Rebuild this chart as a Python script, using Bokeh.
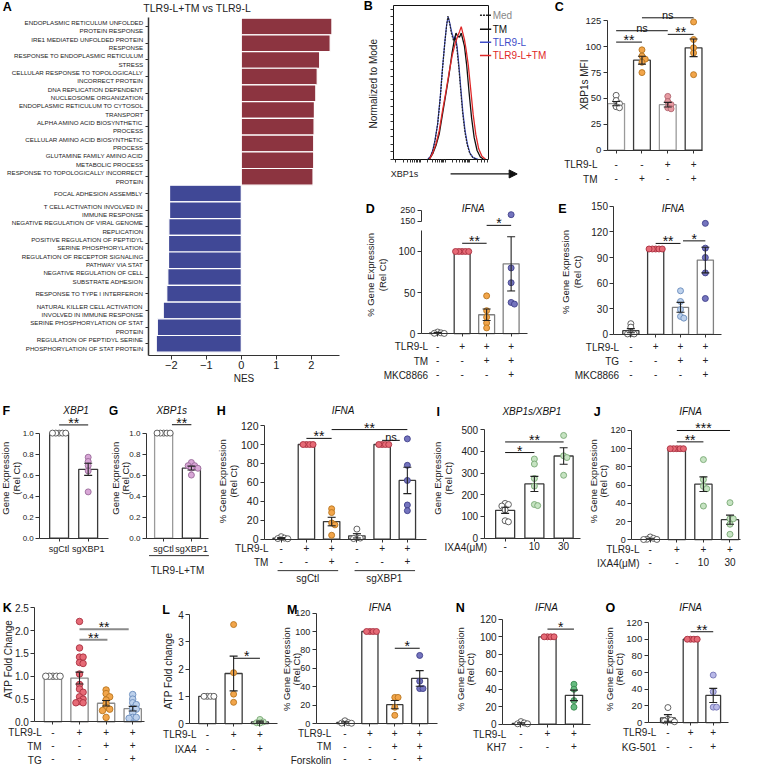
import math
from bokeh.plotting import figure
from bokeh.models import (Label, Arrow, NormalHead, Range1d, FixedTicker, PrintfTickFormatter,
                          LinearAxis, AllLabels)
from bokeh.layouts import row, column
from bokeh.embed import file_html
from bokeh.resources import INLINE
from bokeh.core.properties import value

FONT = "Liberation Sans"

# ---------------- Panel A data ----------------
A_terms = [
    "ENDOPLASMIC RETICULUM UNFOLDED\nPROTEIN RESPONSE",
    "IRE1 MEDIATED UNFOLDED PROTEIN\nRESPONSE",
    "RESPONSE TO ENDOPLASMIC RETICULUM\nSTRESS",
    "CELLULAR RESPONSE TO TOPOLOGICALLY\nINCORRECT PROTEIN",
    "DNA REPLICATION DEPENDENT\nNUCLEOSOME ORGANIZATION",
    "ENDOPLASMIC RETICULUM TO CYTOSOL\nTRANSPORT",
    "ALPHA AMINO ACID BIOSYNTHETIC\nPROCESS",
    "CELLULAR AMINO ACID BIOSYNTHETIC\nPROCESS",
    "GLUTAMINE FAMILY AMINO ACID\nMETABOLIC PROCESS",
    "RESPONSE TO TOPOLOGICALLY INCORRECT\nPROTEIN",
    "FOCAL ADHESION ASSEMBLY",
    "T CELL ACTIVATION INVOLVED IN\nIMMUNE RESPONSE",
    "NEGATIVE REGULATION OF VIRAL GENOME\nREPLICATION",
    "POSITIVE REGULATION OF PEPTIDYL\nSERINE PHOSPHORYLATION",
    "REGULATION OF RECEPTOR SIGNALING\nPATHWAY VIA STAT",
    "NEGATIVE REGULATION OF CELL\nSUBSTRATE ADHESION",
    "RESPONSE TO TYPE I INTERFERON",
    "NATURAL KILLER CELL ACTIVATION\nINVOLVED IN IMMUNE RESPONSE",
    "SERINE PHOSPHORYLATION OF STAT\nPROTEIN",
    "REGULATION OF PEPTIDYL SERINE\nPHOSPHORYLATION OF STAT PROTEIN",
]
A_nes = [2.59, 2.54, 2.24, 2.17, 2.13, 2.09, 2.08, 2.07, 2.07, 2.05,
         -2.05, -2.05, -2.07, -2.08, -2.08, -2.10, -2.13, -2.23, -2.40, -2.43]
A_ticks = [-2, -1, 0, 1, 2]

# ---------------- Panel B data (histogram outlines, % of axis) ----------------
B_med_x = [36.5, 39.0, 41.3, 43.6, 46.3, 49.0, 51.4, 53.8, 55.8, 57.0, 58.8, 60.6, 62.9, 64.6, 66.4, 68.4, 70.4, 72.5, 74.9, 77.3, 80.0, 83.4, 87.5]
B_med_y = [0, 2.2, 6.0, 12.8, 23.5, 40.5, 59.5, 76.0, 88.0, 93.0, 88.5, 82.0, 77.0, 79.0, 72.5, 60.0, 45.0, 30.0, 17.5, 9.5, 3.8, 1.0, 0]
B_tlr_x = [35.8, 38.6, 41.0, 43.3, 46.1, 48.8, 51.2, 53.6, 55.6, 57.3, 59.0, 60.8, 63.1, 64.8, 66.6, 68.6, 70.6, 72.7, 75.1, 77.5, 80.2, 83.6, 88.7]
B_tlr_y = [0, 1.9, 5.7, 12.1, 22.7, 39.6, 58.7, 75.6, 87.3, 92.6, 88.3, 83.1, 78.2, 79.9, 73.5, 60.8, 46.0, 31.1, 18.4, 10.0, 4.0, 1.1, 0]
B_tm_x = [37.5, 41.0, 44.4, 47.8, 51.2, 54.6, 58.0, 61.4, 63.8, 65.5, 67.2, 69.3, 71.0, 72.7, 74.4, 76.8, 79.2, 81.9, 84.6, 87.7, 91.1, 94.5]
B_tm_y = [0, 3.6, 8.9, 16.3, 29.0, 41.7, 54.4, 69.3, 77.8, 82.0, 79.9, 79.4, 82.0, 77.8, 73.5, 60.8, 43.9, 26.9, 14.2, 5.7, 1.5, 0]
B_both_x = [37.5, 41.0, 44.4, 47.8, 51.2, 54.6, 58.0, 61.4, 64.8, 67.2, 69.3, 71.0, 72.7, 74.4, 76.1, 78.5, 80.9, 83.6, 86.3, 89.4, 92.8, 96.6]
B_both_y = [0, 4.0, 10.0, 18.4, 31.1, 42.8, 55.5, 67.2, 75.6, 79.9, 83.1, 86.2, 82.0, 77.8, 71.4, 60.8, 46.0, 29.0, 16.3, 6.8, 1.9, 0]
B_legend = ["Med", "TM", "TLR9-L", "TLR9-L+TM"]

# ---------------- Panel C ----------------
C_tlr9 = ["-", "-", "+", "+"]
C_tm = ["-", "+", "-", "+"]
C_mean = [45, 87, 44, 99]
C_sem = [2.0, 3.8, 2.2, 8.5]
C_pts = [[53, 48, 45, 42, 41], [97, 91, 88, 85, 75], [52, 47, 44, 41, 40], [124, 107, 99, 94, 73]]
C_sig = [(0, 1, 104.5, "**"), (0, 2, 115.5, "ns"), (2, 3, 112, "**"), (1, 3, 128, "ns")]
C_yticks = [0, 25, 50, 75, 100, 125]

# ---------------- Panel D ----------------
D_tlr9 = ["-", "+", "+", "+"]
D_tm = ["-", "-", "+", "+"]
D_mkc = ["-", "-", "-", "+"]
D_mean = [1, 100, 23, 85]
D_sem = [0.6, 0, 7, 33]
D_pts = [[2, 1, 0.5, 0.3], [100, 100, 100, 100, 100], [46, 28, 20, 13, 7], [210, 80, 62, 38, 36]]
D_sig = [(1, 2, 110, "**"), (2, 3, 131.8, "*")]
D_yticks_low = [0, 50, 100]
D_yticks_high = [137, 150]
D_ylabels = {137: "150", 150: "250"}

# ---------------- Panel E ----------------
E_tlr9 = ["-", "+", "+", "+"]
E_tg = ["-", "-", "+", "+"]
E_mkc = ["-", "-", "-", "+"]
E_mean = [4.3, 100, 31.7, 87]
E_sem = [2.4, 0, 5.8, 15]
E_pts = [[12.5, 8.5, 1, 0.5, 0.5], [100, 100, 100, 100, 100], [51, 38.5, 29, 21, 19], [130, 101, 90, 72, 42]]
E_sig = [(1, 2, 106.5, "**"), (2.1, 3, 109.5, "*")]
E_yticks = [0, 30, 60, 90, 120, 150]

# ---------------- Panel F / G ----------------
F_cats = ["sgCtl", "sgXBP1"]
F_mean = [1.0, 0.655]
F_sem = [0, 0.058]
F_pts = [[1, 1, 1, 1, 1], [0.77, 0.73, 0.69, 0.64, 0.44]]
F_sig = [(0, 1, 1.078, "**")]
G_cats = ["sgCtl", "sgXBP1"]
G_mean = [1.0, 0.667]
G_sem = [0, 0.018]
G_pts = [[1, 1, 1, 1, 1], [0.72, 0.69, 0.69, 0.665, 0.665, 0.60]]
G_sig = [(0.3, 1, 1.08, "**")]
FG_yticks = [0, 0.2, 0.4, 0.6, 0.8, 1.0]

# ---------------- Panel H ----------------
H_tlr9 = ["-", "+", "+", "-", "+", "+"]
H_tm = ["-", "-", "+", "-", "-", "+"]
H_groups = ["sgCtl", "sgXBP1"]
H_mean = [1, 100, 18.5, 3.4, 100, 62]
H_sem = [0.5, 0, 4.5, 2.3, 0, 14]
H_pts = [[2.5, 1, 0.5, 0.3], [100, 100, 100, 100], [32, 28, 17, 15, 4], [10.5, 1.5, 1, 0.5],
         [100, 100, 100, 100], [106, 78, 62, 36, 30]]
H_sig = [(1, 2, 106.5, "**"), (2, 5, 115.8, "**"), (4, 4.7, 104.4, "ns")]
Y120 = [0, 20, 40, 60, 80, 100, 120]

# ---------------- Panel I ----------------
I_ixa4 = ["-", "10", "30"]
I_mean = [128, 250, 379]
I_sem = [14, 35, 38]
I_pts = [[160, 155, 148, 130, 80, 75], [365, 342, 275, 240, 155, 150], [474, 380, 372, 290]]
I_sig = [(0, 2, 444, "**"), (0, 1, 395, "*")]
I_yticks = [0, 100, 200, 300, 400, 500]

# ---------------- Panel J ----------------
J_tlr9 = ["-", "+", "+", "+"]
J_ixa4 = ["-", "-", "10", "30"]
J_mean = [1, 100, 61, 22]
J_sem = [0.6, 0, 8, 5]
J_pts = [[3, 1.5, 0.5, 0.3, 0.2], [100, 100, 100, 100, 100], [88, 66, 58.6, 56, 37], [40.7, 23, 23, 17, 6]]
J_sig = [(1, 2, 107.5, "**"), (1, 3, 120, "***")]

# ---------------- Panel K ----------------
K_tlr9 = ["-", "+", "+", "+"]
K_tm = ["-", "-", "+", "+"]
K_tg = ["-", "-", "-", "+"]
K_mean = [1.0, 0.96, 0.41, 0.29]
K_sem = [0, 0.13, 0.06, 0.05]
K_pts = [[1, 1, 1, 1, 1],
         [2.2, 1.62, 1.42, 1.42, 1.3, 1.28, 1.05, 0.82, 0.72, 0.65, 0.55, 0.5, 0.45, 0.42, 0.42],
         [0.7, 0.62, 0.55, 0.48, 0.4, 0.32, 0.28, 0.25, 0.1],
         [0.6, 0.5, 0.42, 0.38, 0.3, 0.28, 0.2, 0.1, 0.1, 0.08]]
K_sig = [(1, 2.85, 2.03, "**"), (1, 2.05, 1.80, "**")]
K_yticks = [0, 0.5, 1.0, 1.5, 2.0, 2.5]

# ---------------- Panel L ----------------
L_tlr9 = ["-", "+", "+"]
L_ixa4 = ["-", "-", "+"]
L_mean = [1.0, 1.84, 0.06]
L_sem = [0, 0.64, 0.03]
L_pts = [[1, 1, 1, 1], [3.64, 1.87, 1.08, 0.78], [0.15, 0.06, 0.03, 0.02]]
L_sig = [(1, 2, 2.4, "*")]
L_yticks = [0, 1, 2, 3, 4]

# ---------------- Panel M ----------------
M_tlr9 = ["-", "+", "+", "+"]
M_tm = ["-", "-", "+", "+"]
M_fsk = ["-", "-", "-", "+"]
M_mean = [1.2, 100, 20.5, 49]
M_sem = [0.7, 0, 4.5, 8.5]
M_pts = [[3, 1, 0.5, 0.3], [100, 100, 100, 100], [28.4, 28.4, 17.7, 8.9], [74, 46, 38, 38]]
M_sig = [(2, 3, 81.8, "*")]

# ---------------- Panel N ----------------
N_tlr9 = ["-", "+", "+"]
N_kh7 = ["-", "-", "+"]
N_mean = [1, 100, 33]
N_sem = [0.7, 0, 6]
N_pts = [[3, 1.5, 0.5, 0.5], [100, 100, 100, 100], [45.7, 40, 27, 19.5]]
N_sig = [(1, 2, 108.8, "*")]

# ---------------- Panel O ----------------
O_tlr9 = ["-", "+", "+"]
O_kg = ["-", "-", "+"]
O_mean = [5.5, 100, 32.5]
O_sem = [4.0, 0, 8.5]
O_pts = [[18, 4, 3, 2, 1], [100, 100, 100, 100], [57, 37, 18.5, 18.5]]
O_sig = [(1, 2, 109, "**")]

GENE_L1 = "% Gene Expression"
GENE_S1 = "Gene Expression"
GENE_L2 = "(Rel Ct)"

# ---------------- styling ----------------
A_RED = "#8C3440"
A_BLUE = "#404896"
WHITE = ("white", "#505050")
RED = ("#E66A76", "#A83040")
ORANGE = ("#F2A54A", "#B8751E")
PURPLE = ("#7474BE", "#40408A")
LBLUE = ("#BDD1EC", "#6A8CBC")
PINK = ("#E79BA2", "#B0646E")
LAV = ("#D8A6D6", "#9A6A9A")
LGREEN = ("#C6E3C2", "#78A874")
GREEN = ("#66BC80", "#3A8A50")
LAVO = ("#B9B9E8", "#7474B4")
DARK = "#3a3a3a"
GRAY = "#9a9a9a"

S = 0.979


def R(v):
    return int(round(S * v))


# canvas box and plot-area box of each panel, in reference-image pixels
GEOM = {
    "A": ((0, 0, 368, 398), (151, 17, 347, 362)),
    "B": ((368, 0, 560, 200), (402, 5, 499, 162)),
    "C": ((560, 0, 763, 200), (620, 5, 717, 152.7)),
    "D": ((368, 200, 565, 398), (430, 210, 538, 340)),
    "E": ((565, 200, 763, 398), (626.7, 210, 736.7, 340.7)),
    "F": ((0, 398, 111, 600), (40, 422, 110, 549.3)),
    "G": ((111, 398, 216, 600), (149, 422, 213.3, 549.3)),
    "H": ((216, 398, 437, 600), (270, 425, 435, 550.3)),
    "I": ((437, 398, 597, 600), (494, 425, 593, 549.3)),
    "J": ((597, 398, 763, 600), (645, 425, 756, 551)),
    "K": ((0, 600, 155, 783), (35, 615, 147, 736.7)),
    "L": ((155, 600, 285, 783), (193.3, 615, 283.3, 738.3)),
    "M": ((285, 600, 455, 783), (322.7, 615, 446.7, 738.3)),
    "N": ((455, 600, 610, 783), (513.3, 615, 603.3, 739)),
    "O": ((610, 600, 763, 783), (661.7, 615, 743.3, 737.3)),
}
MAPS = {}


def mkfig(key, xr, yr):
    (x0, y0, x1, y1), (fl, ft, fr, fb) = GEOM[key]
    kx = (fr - fl) / (xr[1] - xr[0])
    ky = (fb - ft) / (yr[1] - yr[0])
    xs0 = xr[0] - (fl - x0) / kx
    xs1 = xr[1] + (x1 - fr) / kx
    ys0 = yr[0] - (y1 - fb) / ky
    ys1 = yr[1] + (ft - y0) / ky
    p = figure(width=R(x1) - R(x0), height=R(y1) - R(y0),
               x_range=Range1d(xs0, xs1), y_range=Range1d(ys0, ys1),
               output_backend="svg", toolbar_location=None,
               min_border_left=0, min_border_right=0, min_border_top=0, min_border_bottom=0)
    p.outline_line_color = None
    p.grid.visible = False
    MAPS[key] = (lambda ix: xs0 + (ix - x0) / kx, lambda iy: ys1 - (iy - y0) / ky, S * kx, S * ky)
    xa, ya = p.xaxis[0], p.yaxis[0]
    xa.fixed_location = yr[0]
    ya.fixed_location = xr[0]
    xa.bounds = (xr[0], xr[1])
    ya.bounds = (yr[0], yr[1])
    return p


def lab(p, key, ix, iy, text, size=10, align="center", baseline="middle", angle=0.0,
        color="#222222", style="normal", xdata=None, ydata=None):
    X, Y, _, _ = MAPS[key]
    x = X(ix) if xdata is None else xdata
    y = Y(iy) if ydata is None else ydata
    p.add_layout(Label(x=x, y=y, text=text, text_font=FONT,
                       text_font_size=f"{size}px", text_align=align, text_baseline=baseline,
                       angle=angle, text_color=color, text_font_style=style))


def hline(p, key, ix0, ix1, iy, color="#222222", width=1.0, dash="solid", head=False):
    X, Y, _, _ = MAPS[key]
    p.add_layout(Arrow(x_start=X(ix0), y_start=Y(iy), x_end=X(ix1), y_end=Y(iy),
                       line_color=color, line_width=width, line_dash=dash,
                       end=NormalHead(size=8, fill_color=color, line_color=color) if head else None))


def style_axis(ax, fs, color="#333333"):
    ax.axis_line_color = color
    ax.major_tick_line_color = color
    ax.minor_tick_line_color = None
    ax.major_tick_out = 4
    ax.major_tick_in = 0
    ax.major_label_text_font = FONT
    ax.major_label_text_font_size = f"{fs}px"
    ax.major_label_text_color = "#222222"
    ax.major_label_standoff = 2
    ax.major_label_policy = AllLabels()


def axis_title(ax, text, size=10, standoff=4):
    ax.axis_label = text
    ax.axis_label_text_font = FONT
    ax.axis_label_text_font_size = f"{size}px"
    ax.axis_label_text_font_style = "normal"
    ax.axis_label_text_color = "#222222"
    ax.axis_label_standoff = standoff


def swarm(ys, ppy, d):
    placed, offs = [], []
    step = 0.55 * d
    for v in ys:
        y = v * ppy
        c = 0.0
        for j in range(60):
            c = 0.0 if j == 0 else ((j + 1) // 2) * step * (1 if j % 2 else -1)
            if all((c - px) ** 2 + (y - py) ** 2 >= step ** 2 for px, py in placed):
                break
        placed.append((c, y))
        offs.append(c)
    return offs


def barpanel(key, xr, yr, yticks, means, sems, pts, pcols, bedges, sigs, rows=(),
             row_right=None, ytitles=(), ytitle_fs=9.5, letter=None, title=None, tick_fs=10,
             bw=0.65, psize=6.0, sig_color="#111111", sig_width=1.0, ybounds=None,
             overrides=None, ytrans=None, fmt=None, ast_fs=14, xfs=10, xlh=1.25, xstand=2):
    p = mkfig(key, xr, yr)
    X, Y, ppx, ppy = MAPS[key]
    tr = ytrans if ytrans else (lambda v: v)
    n = len(means)
    xs = list(range(n))
    p.vbar(x=xs, bottom=0, top=[tr(m) for m in means], width=bw, fill_color="white",
           line_color=bedges, line_width=1.3)
    for i in range(n):
        ys = [tr(v) for v in pts[i]]
        offs = swarm(ys, ppy, psize)
        p.scatter([i + o / ppx for o in offs], ys, size=psize, fill_color=pcols[i][0],
                  line_color=pcols[i][1], line_width=0.9)
    cap = 4.0 / ppx
    ex0, ey0, ex1, ey1 = [], [], [], []
    for i in range(n):
        if sems[i] > 0:
            lo, hi = tr(means[i] - sems[i]), tr(means[i] + sems[i])
            ex0 += [i, i - cap, i - cap]
            ex1 += [i, i + cap, i + cap]
            ey0 += [lo, hi, lo]
            ey1 += [hi, hi, lo]
    if ex0:
        p.segment(x0=ex0, y0=ey0, x1=ex1, y1=ey1, line_color="#222222", line_width=1.1)
    for a, b, h, t in sigs:
        p.segment(x0=[a], y0=[h], x1=[b], y1=[h], line_color=sig_color, line_width=sig_width)
        star = "*" in t
        p.text(x=[(a + b) / 2], y=[h], text=[t], text_font=value(FONT),
               text_font_size=f"{ast_fs if star else 11}px", text_align="center",
               text_baseline="alphabetic", y_offset=-2 if star else -3,
               text_color="#111111")
    ya = p.yaxis[0]
    xa = p.xaxis[0]
    style_axis(ya, tick_fs)
    style_axis(xa, tick_fs)
    ya.ticker = FixedTicker(ticks=yticks)
    if fmt:
        ya.formatter = PrintfTickFormatter(format=fmt)
    if overrides:
        ya.major_label_overrides = overrides
    ya.bounds = ybounds if ybounds else (yticks[0], yticks[-1])
    # category / treatment rows are the x-axis tick labels
    xa.ticker = FixedTicker(ticks=xs)
    xa.major_tick_out = 3
    xa.major_label_overrides = {i: "\n".join(r[1][i] for r in rows) for i in xs}
    xa.major_label_text_font_size = f"{xfs}px"
    xa.major_label_text_line_height = xlh
    xa.major_label_standoff = xstand
    hh = 1.15 * xfs
    for k, (name, _) in enumerate(rows):
        if name:
            off = 3 + xstand + hh / 2 + k * xlh * hh
            lab(p, key, row_right, None, name, size=xfs, align="right", ydata=-off / ppy)
    for t, ix, iy in ytitles:
        lab(p, key, ix, iy, t, size=ytitle_fs, angle=math.pi / 2)
    if letter:
        lab(p, key, letter[1], letter[2], letter[0], size=12.5, style="bold", color="black")
    if title:
        lab(p, key, title[1], title[2], title[0], size=10, style="italic", color="#111111")
    return p


# ================= Panel A =================
pA = mkfig("A", (-2.66, 2.82), (-0.68, 19.56))
A_pos = [len(A_terms) - 1 - i for i in range(len(A_terms))]
pA.hbar(y=A_pos, left=0, right=A_nes, height=1.0,
        fill_color=[A_RED if v > 0 else A_BLUE for v in A_nes], line_color="white", line_width=1.2)
xa = pA.xaxis[0]
style_axis(xa, 11)
xa.ticker = FixedTicker(ticks=A_ticks)
xa.major_label_overrides = {-2: "\u22122", -1: "\u22121"}
axis_title(xa, "NES", size=10, standoff=0)
ya = pA.yaxis[0]
style_axis(ya, 6.2)
ya.ticker = FixedTicker(ticks=A_pos)
ya.major_label_overrides = {pos: t for pos, t in zip(A_pos, A_terms)}
ya.major_tick_out = 3
ya.axis_line_width = 1.5
lab(pA, "A", 7, 7, "A", size=12.5, style="bold", color="black")
lab(pA, "A", 201, 8, "TLR9-L+TM vs TLR9-L", size=10.5)

# ================= Panel B =================
pB = mkfig("B", (0, 100), (0, 100))
pB.line(B_tlr_x, B_tlr_y, line_color="#3F4DC8", line_width=1.2)
pB.line(B_med_x, B_med_y, line_color="#222222", line_width=1.2, line_dash="2 1")
pB.line(B_tm_x, B_tm_y, line_color="#111111", line_width=1.3)
pB.line(B_both_x, B_both_y, line_color="#E02828", line_width=1.3)
for ax in (pB.xaxis[0], pB.yaxis[0]):
    style_axis(ax, 9, color="#111111")
    ax.minor_tick_line_color = "#333333"
    ax.minor_tick_out = 3
    ax.minor_tick_in = 0
pB.yaxis[0].ticker = FixedTicker(ticks=[], minor_ticks=[k * 4.875 for k in range(21)])
dec = [2, 28, 54, 80]
pB.xaxis[0].ticker = FixedTicker(ticks=[], minor_ticks=dec + [d + 26 * math.log10(k) for d in dec
                                                             for k in range(2, 10)
                                                             if d + 26 * math.log10(k) < 100])
for side in ("above", "right"):
    pB.add_layout(LinearAxis(fixed_location=100, bounds=(0, 100), ticker=FixedTicker(ticks=[]),
                             axis_line_color="#111111", major_tick_line_color=None,
                             minor_tick_line_color=None), side)
lab(pB, "B", 376, 6, "B", size=12.5, style="bold", color="black")
lab(pB, "B", 381, 85, "Normalized to Mode", size=10, angle=math.pi / 2)
lab(pB, "B", 413, 177, "XBP1s", size=9)
hline(pB, "B", 460, 528, 177, color="#111111", width=1.2, head=True)
leg_cols = [("#222222", "2 1", "#888888"), ("#111111", "solid", "#111111"),
            ("#3F4DC8", "solid", "#3F4DC8"), ("#E02828", "solid", "#E02828")]
for (lc, dsh, tc), name, iy in zip(leg_cols, B_legend, [15, 29.3, 42.7, 56]):
    hline(pB, "B", 490, 501.5, iy, color=lc, width=1.5, dash=dsh)
    lab(pB, "B", 503, iy, name, size=10, align="left", color=tc)

# ================= Panels C - O =================
pC = barpanel("C", (-0.342, 3.342), (0, 140), C_yticks, C_mean, C_sem, C_pts,
              [WHITE, ORANGE, PINK, ORANGE], [GRAY, DARK, GRAY, DARK], C_sig,
              rows=[("TLR9-L", C_tlr9), ("TM", C_tm)], row_right=610, xstand=6, xlh=1.28,
              ytitles=[("XBP1s MFI", 597, 86)], ytitle_fs=10, letter=("C", 571, 7), tick_fs=9.5)


def brk(v):
    return v if v <= 125 else 137 + (v - 150) * 0.13


pD = barpanel("D", (-0.67, 3.65), (0, 155), D_yticks_low, D_mean, D_sem, D_pts,
              [WHITE, RED, ORANGE, PURPLE], [DARK, DARK, "#808080", "#808080"], D_sig,
              rows=[("TLR9-L", D_tlr9), ("TM", D_tm), ("MKC8866", D_mkc)], row_right=437,
              xstand=4, xlh=1.28, ytitles=[(GENE_L1, 378, 280), (GENE_L2, 390, 280)],
              letter=("D", 378, 213), title=("IFNA", 483, 212), ybounds=(0, 125), ytrans=brk)
axD = LinearAxis(fixed_location=-0.67, bounds=(137, 150), ticker=FixedTicker(ticks=D_yticks_high),
                 major_label_overrides=D_ylabels)
style_axis(axD, 9)
pD.add_layout(axD, "left")

pE = barpanel("E", (-0.68, 3.66), (0, 150), E_yticks, E_mean, E_sem, E_pts,
              [WHITE, RED, LBLUE, PURPLE], [DARK, DARK, "#808080", "#808080"], E_sig,
              rows=[("TLR9-L", E_tlr9), ("TG", E_tg), ("MKC8866", E_mkc)], row_right=632,
              xstand=4, xlh=1.25, ytitles=[(GENE_L1, 577, 277), (GENE_L2, 590, 277)],
              letter=("E", 574, 213), title=("IFNA", 687, 212))

pF = barpanel("F", (-0.665, 1.70), (0, 1.183), FG_yticks, F_mean, F_sem, F_pts,
              [WHITE, LAV], [DARK, DARK], F_sig, rows=[("", F_cats)], xfs=9, xstand=3,
              ytitles=[(GENE_S1, 5, 488), (GENE_L2, 16, 488)], letter=("F", 6, 419),
              title=("XBP1", 77, 419), tick_fs=8, fmt="%.1f")

pG = barpanel("G", (-0.62, 1.63), (0, 1.183), FG_yticks, G_mean, G_sem, G_pts,
              [WHITE, LAV], [GRAY, DARK], G_sig, rows=[("", G_cats)], xfs=9, xstand=3,
              ytitles=[(GENE_S1, 117, 488), (GENE_L2, 127, 488)], letter=("G", 115, 419),
              title=("XBP1s", 175, 419), tick_fs=8, fmt="%.1f")
axis_title(pG.xaxis[0], "TLR9-L+TM", size=10, standoff=7)
hline(pG, "G", 151.7, 213.3, 567.3, color="#333333", width=1)

pH = barpanel("H", (-0.66, 5.76), (0, 129.3), Y120, H_mean, H_sem, H_pts,
              [WHITE, RED, ORANGE, WHITE, RED, PURPLE], [DARK] * 6, H_sig,
              rows=[("TLR9-L", H_tlr9), ("TM", H_tm)], row_right=274, xstand=1, xlh=1.22,
              ytitles=[(GENE_L1, 227, 491), (GENE_L2, 238, 491)], letter=("H", 226, 419),
              title=("IFNA", 350, 419), tick_fs=10.5)
hline(pH, "H", 283.3, 345, 582.7, color="#333333", width=1)
hline(pH, "H", 361.7, 423.3, 582.7, color="#333333", width=1)
lab(pH, "H", 314, 591, H_groups[0], size=10)
lab(pH, "H", 392, 591, H_groups[1], size=10)

pI = barpanel("I", (-0.72, 2.58), (0, 560), I_yticks, I_mean, I_sem, I_pts,
              [WHITE, LGREEN, LGREEN], [DARK] * 3, I_sig,
              rows=[("IXA4(\u03bcM)", I_ixa4)], row_right=497, xstand=1,
              ytitles=[(GENE_S1, 446, 488), (GENE_L2, 457, 488)], letter=("I", 447, 420),
              title=("XBP1s/XBP1", 543, 420))

pJ = barpanel("J", (-0.70, 3.4), (0, 135), Y120, J_mean, J_sem, J_pts,
              [WHITE, RED, LGREEN, LGREEN], [DARK] * 4, J_sig,
              rows=[("TLR9-L", J_tlr9), ("IXA4(\u03bcM)", J_ixa4)], row_right=653, xstand=1,
              xlh=1.22, ytitles=[(GENE_L1, 606, 491), (GENE_L2, 616, 491)],
              letter=("J", 610, 420), title=("IFNA", 705, 420), tick_fs=9)

pK = barpanel("K", (-0.68, 3.45), (0, 2.62), K_yticks, K_mean, K_sem, K_pts,
              [WHITE, RED, ORANGE, LBLUE], ["#8a8a8a"] * 4, K_sig,
              rows=[("TLR9-L", K_tlr9), ("TM", K_tm), ("TG", K_tg)], row_right=42,
              xstand=2, xlh=1.18, ytitles=[("ATP Fold Change", 8, 673)], ytitle_fs=10,
              letter=("K", 7, 621), fmt="%.1f", sig_color="#8a8a8a", sig_width=2, psize=6.5)

pL = barpanel("L", (-0.66, 2.68), (0, 4.46), L_yticks, L_mean, L_sem, L_pts,
              [WHITE, ORANGE, LGREEN], [DARK] * 3, L_sig,
              rows=[("TLR9-L", L_tlr9), ("IXA4", L_ixa4)], row_right=200, xstand=2, xlh=1.35,
              ytitles=[("ATP Fold change", 171, 685)], ytitle_fs=10, letter=("L", 169, 623))

pM = barpanel("M", (-1.15, 3.71), (0, 131.8), Y120, M_mean, M_sem, M_pts,
              [WHITE, RED, ORANGE, PURPLE], [DARK] * 4, M_sig,
              rows=[("TLR9-L", M_tlr9), ("TM", M_tm), ("Forskolin", M_fsk)], row_right=338,
              xstand=1, xlh=1.18, ytitles=[(GENE_L1, 292, 683), (GENE_L2, 302, 683)],
              letter=("M", 298, 623), title=("IFNA", 388, 620), tick_fs=9)

pN = barpanel("N", (-0.69, 2.64), (0, 139.5), Y120, N_mean, N_sem, N_pts,
              [WHITE, RED, GREEN], [DARK] * 3, N_sig,
              rows=[("TLR9-L", N_tlr9), ("KH7", N_kh7)], row_right=517, xstand=1, xlh=1.2,
              ytitles=[(GENE_L1, 470, 683), (GENE_L2, 481, 683)], letter=("N", 470, 621),
              title=("IFNA", 558, 620))

pO = barpanel("O", (-0.87, 2.66), (0, 144.4), Y120, O_mean, O_sem, O_pts,
              [WHITE, RED, LAVO], [DARK] * 3, O_sig,
              rows=[("TLR9-L", O_tlr9), ("KG-501", O_kg)], row_right=670, xstand=1, xlh=1.32,
              ytitles=[(GENE_L1, 622, 683), (GENE_L2, 632, 683)], letter=("O", 623, 621),
              title=("IFNA", 705, 620), tick_fs=9.5)

top = row(pA, column(row(pB, pC), row(pD, pE)))
lay = column(top, row(pF, pG, pH, pI, pJ), row(pK, pL, pM, pN, pO))

open("out.html", "w").write(file_html(lay, INLINE))
